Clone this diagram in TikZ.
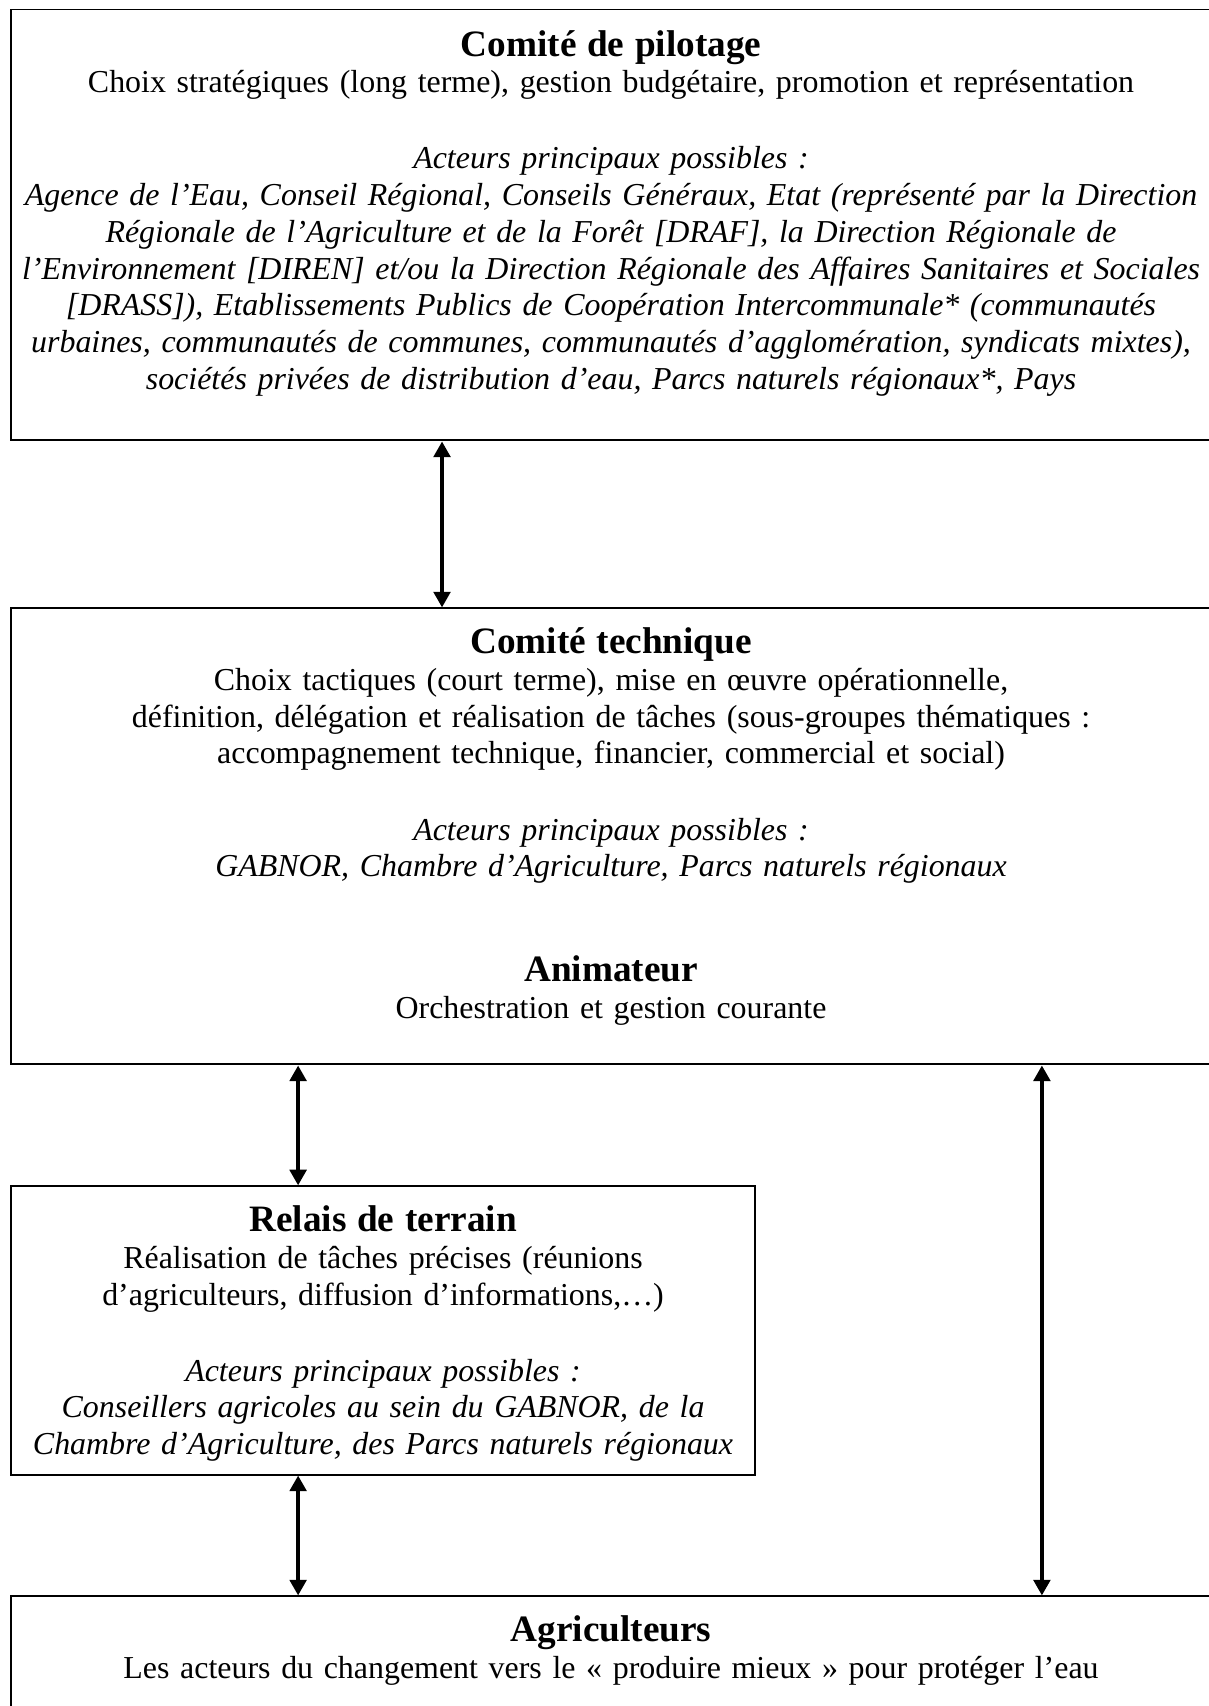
\documentclass[tikz,border=0pt]{standalone}
\usepackage{fontspec}
\setmainfont{Liberation Serif}
\usepackage{tikz}
\usetikzlibrary{positioning, arrows.meta}
\newcommand{\ttl}[1]{{\fontsize{14}{16.1}\selectfont\bfseries #1}}

\begin{document}
\begin{tikzpicture}[
  node distance=45.1pt,
  every node/.style={font=\fontsize{12}{13.8}\selectfont\frenchspacing},
  box/.style={draw, line width=0.75pt, minimum width=451.1pt, inner sep=0pt},
  txt/.style={align=center, text width=451pt, inner sep=0pt},
  arr/.style={{Triangle[length=5.9pt,width=6.2pt]}-{Triangle[length=5.9pt,width=6.2pt]}, line width=1.75pt}
]
\useasboundingbox (0,0) rectangle (454.1pt,-641.3pt);
\node[box, minimum height=162pt, anchor=north west] (pil) at (3.76pt,-3.2pt) {};
\node[box, minimum height=171.4pt, below=62.4pt of pil] (tech) {};
\node[box, minimum width=279.7pt, minimum height=108.3pt, below right=45.1pt and 0pt of tech.south west] (rel) {};
\node[box, minimum height=60pt, below right=45.1pt and 0pt of rel.south west] (agri) {};

\node[txt, below=8pt of pil.north] (pilt) {\ttl{Comité de pilotage}\\
  Choix stratégiques (long terme), gestion budgétaire, promotion et représentation\\[14.8pt]
  \itshape Acteurs principaux possibles :\\
  Agence de l’Eau, Conseil Régional, Conseils Généraux, Etat (représenté par la Direction\\
  Régionale de l’Agriculture et de la Forêt [DRAF], la Direction Régionale de\\
  l’Environnement [DIREN] et/ou la Direction Régionale des Affaires Sanitaires et Sociales\\
  {[DRASS]}), Etablissements Publics de Coopération Intercommunale* (communautés\\
  urbaines, communautés de communes, communautés d’agglomération, syndicats mixtes),\\
  sociétés privées de distribution d’eau, Parcs naturels régionaux*, Pays};
\node[txt, below=7.5pt of tech.north] (techt) {\ttl{Comité technique}\\
  Choix tactiques (court terme), mise en œuvre opérationnelle,\\
  définition, délégation et réalisation de tâches (sous-groupes thématiques :\\
  accompagnement technique, financier, commercial et social)\\[14.8pt]
  \textit{Acteurs principaux possibles :}\\
  \textit{GABNOR, Chambre d’Agriculture, Parcs naturels régionaux}\\[25.7pt]
  \ttl{Animateur}\\
  Orchestration et gestion courante};
\node[txt, text width=279pt, below=7.5pt of rel.north] (relt) {\ttl{Relais de terrain}\\
  Réalisation de tâches précises (réunions\\
  d’agriculteurs, diffusion d’informations,…)\\[14.8pt]
  \itshape Acteurs principaux possibles :\\
  Conseillers agricoles au sein du GABNOR, de la\\
  Chambre d’Agriculture, des Parcs naturels régionaux};
\node[txt, below=7.5pt of agri.north] (agrit) {\ttl{Agriculteurs}\\
  Les acteurs du changement vers le « produire mieux » pour protéger l’eau};

\coordinate (p1) at ([xshift=162.4pt]pil.south west);
\coordinate (p2) at ([xshift=108.3pt]tech.south west);
\coordinate (p3) at ([xshift=387.9pt]tech.south west);
\draw[arr] (p1) -- (p1 |- tech.north);
\draw[arr] (p2) -- (p2 |- rel.north);
\draw[arr] (p2 |- rel.south) -- (p2 |- agri.north);
\draw[arr] (p3) -- (p3 |- agri.north);
\end{tikzpicture}
\end{document}
